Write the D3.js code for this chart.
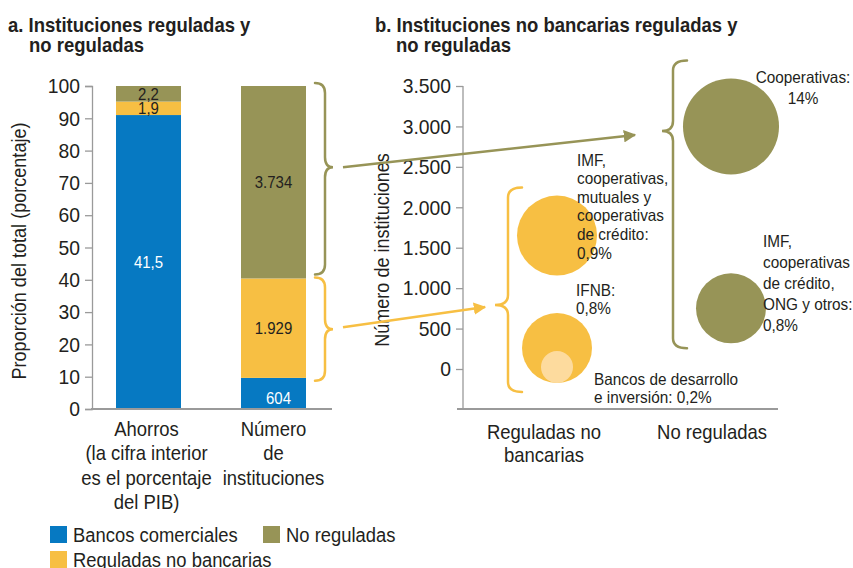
<!DOCTYPE html>
<html>
<head>
<meta charset="utf-8">
<script src="https://cdn.jsdelivr.net/npm/d3@7"></script>
<style>
  body { margin: 0; background: #fff; }
  svg { display: block; font-family: "Liberation Sans", Arial, sans-serif; }
  text { fill: #231f20; }
</style>
</head>
<body>
<svg id="chart" width="853" height="568"></svg>
<script>
// ---- data ----
const barCategories = ["Ahorros", "Número de instituciones"];
const barSeries = ["Bancos comerciales", "Reguladas no bancarias", "No reguladas"];
const savingsPctGdp = [41.5, 1.9, 2.2];
const institutionCounts = [604, 1929, 3734];
const barTicks = [0, 10, 20, 30, 40, 50, 60, 70, 80, 90, 100];

const bubbleGroups = ["Reguladas no bancarias", "No reguladas"];
const bubbleNames = ["IMF, cooperativas, mutuales y cooperativas de crédito", "IFNB",
                     "Bancos de desarrollo e inversión", "Cooperativas",
                     "IMF, cooperativas de crédito, ONG y otros"];
const bubbleGroupOf = [0, 0, 0, 1, 1];
const bubbleCounts = [1650, 260, 25, 3000, 750];
const bubbleShares = [0.9, 0.8, 0.2, 14, 0.8];
const bubbleTicks = [0, 500, 1000, 1500, 2000, 2500, 3000, 3500];

// ---- styles ----
const BLUE = "#0679c2", YELLOW = "#f7bf43", OLIVE = "#979457", LIGHT = "#fddb9e";
const seriesColors = [BLUE, YELLOW, OLIVE];
const AXIS = "#9a9a9a";

const es = d3.formatLocale({decimal: ",", thousands: ".", grouping: [3], currency: ["", ""]});
const fmtInt = es.format(",");
const fmtDec = es.format(".1f");

const svg = d3.select("#chart");

// the source uses a narrow face; squeeze the regular one to match
function condense(sel, k) {
    sel.each(function() {
        const tsp = d3.select(this).selectAll("tspan");
        const nodes = tsp.empty() ? [this] : tsp.nodes();
        nodes.forEach(n => {
            const w = n.getComputedTextLength();
            n.setAttribute("textLength", w * k);
            n.setAttribute("lengthAdjust", "spacingAndGlyphs");
        });
    });
}

// ---- titles ----
function title(x, y, lines) {
    const t = svg.append("text").attr("x", x).attr("y", y)
        .attr("font-size", 21).attr("font-weight", "bold");
    lines.forEach((l, i) => t.append("tspan").attr("x", i ? x + 21 : x).attr("dy", i ? 20 : 0).text(l));
    condense(t, 0.88);
}
title(8, 32, ["a. Instituciones reguladas y", "no reguladas"]);
title(375, 32, ["b. Instituciones no bancarias reguladas y", "no reguladas"]);

// ================= Panel a: stacked 100% bars =================
const xA = d3.scaleBand().domain(barCategories).range([91, 331]).paddingInner(0.48).paddingOuter(0.2);
const yA = d3.scaleLinear().domain([0, 100]).range([409, 86]);

const barValues = [savingsPctGdp, institutionCounts];
const stacks = barCategories.map((c, ci) => {
    const vals = barValues[ci];
    const total = d3.sum(vals);
    let acc = 0;
    return vals.map((v, si) => {
        const y0 = acc; acc += v / total * 100;
        return {cat: c, si: si, y0: y0, y1: acc, v: v, isCount: ci === 1};
    });
}).flat();

const gA = svg.append("g");
gA.selectAll("rect").data(stacks).enter().append("rect")
    .attr("x", d => xA(d.cat))
    .attr("width", xA.bandwidth())
    .attr("y", d => yA(d.y1))
    .attr("height", d => yA(d.y0) - yA(d.y1))
    .attr("fill", d => seriesColors[d.si]);

const valLabels = gA.selectAll("text.val").data(stacks).enter().append("text")
    .attr("class", "val")
    .attr("x", d => xA(d.cat) + xA.bandwidth() / 2 + (d.isCount && d.si === 0 ? 5 : 0))
    .attr("y", d => (yA(d.y0) + yA(d.y1)) / 2 + (d.isCount && d.si === 0 ? 5 : 0))
    .attr("dy", "0.35em")
    .attr("text-anchor", "middle")
    .attr("font-size", 17)
    .style("fill", d => d.si === 0 ? "#fff" : "#231f20")
    .text(d => d.isCount ? fmtInt(d.v) : fmtDec(d.v));
condense(valLabels, 0.88);

// y axis
const axA = gA.append("g").attr("transform", "translate(92,0)")
    .call(d3.axisLeft(yA).tickValues(barTicks).tickSize(7).tickSizeOuter(7).tickPadding(5));
axA.selectAll("path, line").attr("stroke", AXIS).attr("stroke-width", 1.3);
axA.selectAll("text").attr("font-size", 21).attr("font-family", null).style("fill", "#231f20");
condense(axA.selectAll("text"), 0.92);
// baseline
gA.append("line").attr("x1", 91).attr("x2", 332).attr("y1", 409).attr("y2", 409)
    .attr("stroke", AXIS).attr("stroke-width", 2);

condense(svg.append("text").attr("transform", "translate(26,251) rotate(-90)")
    .attr("text-anchor", "middle").attr("font-size", 21)
    .text("Proporción del total (porcentaje)"), 0.86);

const catLabelLines = [["Ahorros", "(la cifra interior", "es el porcentaje", "del PIB)"],
                       ["Número", "de", "instituciones"]];
barCategories.forEach((c, i) => {
    const t = svg.append("text").attr("text-anchor", "middle").attr("font-size", 21)
        .attr("y", 436);
    const cx = xA(c) + xA.bandwidth() / 2 - (i === 0 ? 2 : 0);
    catLabelLines[i].forEach((l, j) => t.append("tspan").attr("x", cx).attr("dy", j ? 24.3 : 0).text(l));
    condense(t, 0.88);
});

// legend
const legendPos = [[50, 526], [50, 551], [263, 526]];
barSeries.forEach((s, i) => {
    const g = svg.append("g").attr("transform", `translate(${legendPos[i][0]},${legendPos[i][1]})`);
    g.append("rect").attr("width", 17).attr("height", 17).attr("fill", seriesColors[i]);
    condense(g.append("text").attr("x", 23).attr("y", 8.5).attr("dy", "0.36em").attr("font-size", 20).text(s), 0.92);
});

// ================= Panel b: bubbles =================
const xB = d3.scalePoint().domain(bubbleGroups).range([557, 731]);
const yB = d3.scaleLinear().domain([0, 3500]).range([369, 86]);
const rB = d3.scaleLinear().domain([0.2, 0.8, 0.9, 14]).range([16, 35, 40, 48]);

const gB = svg.append("g");
const axB = gB.append("g").attr("transform", "translate(463,0)")
    .call(d3.axisLeft(yB).tickValues(bubbleTicks).tickSize(7).tickSizeOuter(0).tickPadding(5).tickFormat(fmtInt));
axB.select(".domain").remove();
axB.selectAll("line").attr("stroke", AXIS).attr("stroke-width", 1.3);
axB.selectAll("text").attr("font-size", 21).attr("font-family", null).style("fill", "#231f20");
condense(axB.selectAll("text"), 0.92);
gB.append("line").attr("x1", 463).attr("x2", 463).attr("y1", yB(3500)).attr("y2", 409)
    .attr("stroke", AXIS).attr("stroke-width", 1.3);
gB.append("line").attr("x1", 457).attr("x2", 778).attr("y1", 409).attr("y2", 409)
    .attr("stroke", AXIS).attr("stroke-width", 2);

condense(svg.append("text").attr("transform", "translate(389,250) rotate(-90)")
    .attr("text-anchor", "middle").attr("font-size", 21)
    .text("Número de instituciones"), 0.86);

const groupLabelLines = [["Reguladas no", "bancarias"], ["No reguladas"]];
bubbleGroups.forEach((g, i) => {
    const t = svg.append("text").attr("text-anchor", "middle").attr("font-size", 21).attr("y", 439);
    const cx = xB(g) - (i === 0 ? 13 : 19);
    groupLabelLines[i].forEach((l, j) => t.append("tspan").attr("x", cx).attr("dy", j ? 23 : 0).text(l));
    condense(t, 0.88);
});

const bubbles = bubbleNames.map((n, i) => ({
    name: n, group: bubbleGroups[bubbleGroupOf[i]], gi: bubbleGroupOf[i],
    count: bubbleCounts[i], share: bubbleShares[i], inner: i === 2
}));
// development banks sit inside the IFNB circle, at its bottom
gB.selectAll("circle").data(bubbles).enter().append("circle")
    .attr("cx", d => xB(d.group))
    .attr("cy", d => yB(d.count))
    .attr("r", d => rB(d.share))
    .attr("fill", d => d.inner ? LIGHT : (d.gi === 0 ? YELLOW : OLIVE));

// bubble annotations (layout only)
const notes = [
    {lines: ["IMF,", "cooperativas,", "mutuales y", "cooperativas", "de crédito:", "0,9%"], dx: 20, dy: -76, gap: 18.6, anchor: "start"},
    {lines: ["IFNB:", "0,8%"], dx: 19, dy: -58, gap: 18, anchor: "start"},
    {lines: ["Bancos de desarrollo", "e inversión: 0,2%"], dx: 37, dy: 12, gap: 18, anchor: "start"},
    {lines: ["Cooperativas:", "14%"], dx: 72, dy: -49, gap: 21, anchor: "middle"},
    {lines: ["IMF,", "cooperativas", "de crédito,", "ONG y otros:", "0,8%"], dx: 32, dy: -67, gap: 21, anchor: "start"}
];
bubbles.forEach((b, i) => {
    const n = notes[i];
    const x = xB(b.group) + n.dx, y = yB(b.count) + n.dy;
    const t = gB.append("text").attr("text-anchor", n.anchor).attr("font-size", 16.5)
        .attr("y", y).attr("dy", "0.36em");
    n.lines.forEach((l, j) => t.append("tspan").attr("x", x).attr("dy", j ? n.gap : "0.36em").text(l));
    condense(t, 0.93);
});

// ---- braces and arrows ----
function brace(x0, x1, x2, top, bottom, tipY, color) {
    const r = 10;
    const p = `M${x0},${top} Q${x1},${top} ${x1},${top + r} L${x1},${tipY - r} ` +
              `Q${x1},${tipY} ${x2},${tipY} Q${x1},${tipY} ${x1},${tipY + r} ` +
              `L${x1},${bottom - r} Q${x1},${bottom} ${x0},${bottom}`;
    svg.append("path").attr("d", p).attr("fill", "none").attr("stroke", color)
        .attr("stroke-width", 2.5).attr("stroke-linecap", "round");
}

const defs = svg.append("defs");
[["arrOlive", OLIVE], ["arrYellow", YELLOW]].forEach(([id, c]) => {
    defs.append("marker").attr("id", id).attr("viewBox", "0 0 10 10")
        .attr("refX", 9).attr("refY", 5).attr("markerWidth", 5).attr("markerHeight", 5)
        .attr("markerUnits", "strokeWidth").attr("orient", "auto")
        .append("path").attr("d", "M0,0 L10,5 L0,10 Z").attr("fill", c);
});

// panel a braces: around the count bar segments
const countStack = stacks.filter(d => d.isCount);
const bxA = xA(barCategories[1]) + xA.bandwidth();
const olSeg = countStack[2], ylSeg = countStack[1];
const olTop = yA(olSeg.y1) - 3, olBot = yA(olSeg.y0) - 4;
const olTip = olTop + (olBot - olTop) * 0.44;
brace(bxA + 9, bxA + 19, bxA + 27, olTop, olBot, olTip, OLIVE);
const ylTop = yA(ylSeg.y1) - 1, ylBot = yA(ylSeg.y0) + 3;
const ylTip = (ylTop + ylBot) / 2;
brace(bxA + 9, bxA + 19, bxA + 27, ylTop, ylBot, ylTip, YELLOW);

// panel b braces: around each group's bubbles
function groupExtent(gi) {
    const bs = bubbles.filter(b => b.gi === gi);
    return [d3.min(bs, b => yB(b.count) - rB(b.share)), d3.max(bs, b => yB(b.count) + rB(b.share))];
}
const [yTopY, yBotY] = groupExtent(0);
const ybTop = yTopY - 8, ybBot = yBotY + 9, ybTip = ybTop + (ybBot - ybTop) * 0.575;
const xYel = xB(bubbleGroups[0]);
brace(xYel - 35, xYel - 49, xYel - 62, ybTop, ybBot, ybTip, YELLOW);

const [oTopY, oBotY] = groupExtent(1);
const obTop = oTopY - 18, obBot = oBotY + 5, obTip = obTop + (obBot - obTop) * 0.245;
const xOl = xB(bubbleGroups[1]);
brace(xOl - 44, xOl - 58, xOl - 69, obTop, obBot, obTip, OLIVE);

svg.append("line").attr("x1", bxA + 37).attr("y1", olTip)
    .attr("x2", xOl - 96).attr("y2", obTip + 4)
    .attr("stroke", OLIVE).attr("stroke-width", 2.5).attr("marker-end", "url(#arrOlive)");
svg.append("line").attr("x1", bxA + 37).attr("y1", ylTip - 2)
    .attr("x2", xYel - 72).attr("y2", ybTip + 2)
    .attr("stroke", YELLOW).attr("stroke-width", 2.5).attr("marker-end", "url(#arrYellow)");
</script>
</body>
</html>
